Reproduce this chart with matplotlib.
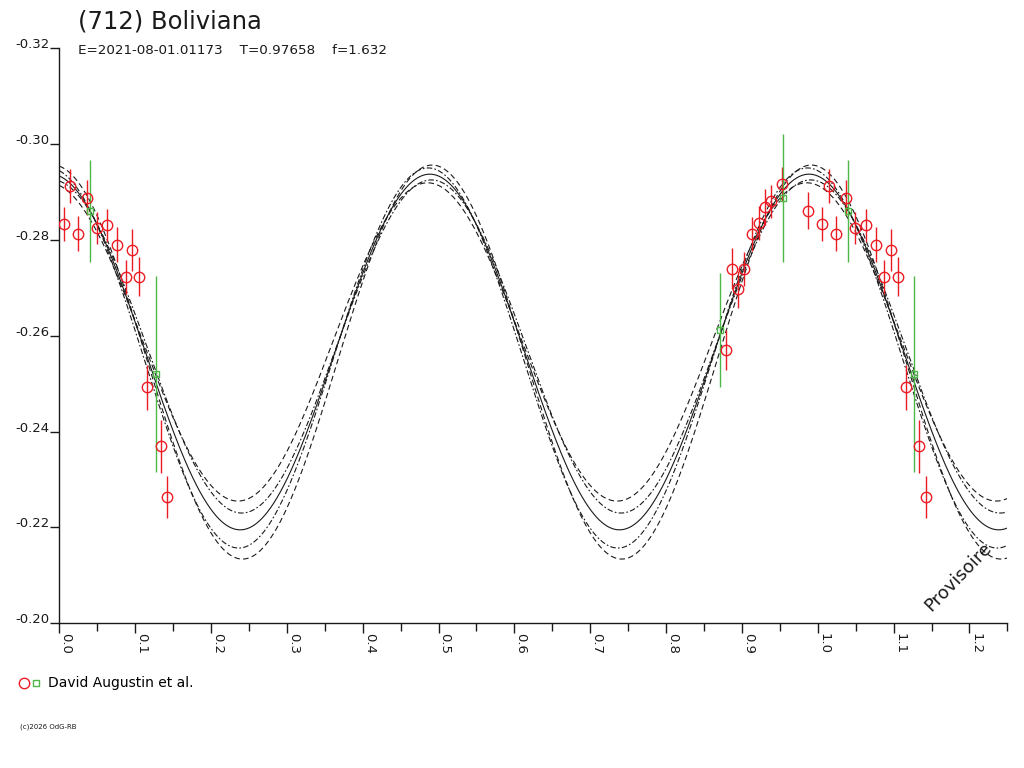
import numpy as np
import matplotlib
matplotlib.use('Agg')
import matplotlib.pyplot as plt
from matplotlib.lines import Line2D
from matplotlib.legend_handler import HandlerTuple
from matplotlib.ticker import FixedLocator, MultipleLocator

plt.rcParams['font.family'] = ['DejaVu Sans']

# ---------------- data ----------------
title = "(712) Boliviana"
subtitle = "E=2021-08-01.01173    T=0.97658    f=1.632"
observer = "David Augustin et al."
copyright_txt = "(c)2026 OdG-RB"
stamp = "Provisoire"

red_phase = [0.0062, 0.0145, 0.0243, 0.0369, 0.0497, 0.0633, 0.0765, 0.0875,
             0.0962, 0.1057, 0.1160, 0.1337, 0.1424, 0.8786, 0.8865, 0.8944,
             0.9031, 0.9128, 0.9225, 0.9304, 0.9383, 0.9528, 0.9875]
red_mag = [-0.2833, -0.2912, -0.2813, -0.2888, -0.2825, -0.2830, -0.2790, -0.2723,
           -0.2779, -0.2723, -0.2492, -0.2369, -0.2263, -0.2570, -0.2740, -0.2697,
           -0.2739, -0.2812, -0.2835, -0.2868, -0.2880, -0.2917, -0.2861]
red_err = [0.0036, 0.0035, 0.0036, 0.0036, 0.0034, 0.0035, 0.0037, 0.0035,
           0.0043, 0.0041, 0.0047, 0.0055, 0.0044, 0.0042, 0.0042, 0.0039,
           0.0036, 0.0036, 0.0035, 0.0038, 0.0035, 0.0035, 0.0039]

green_phase = [0.0401, 0.1275, 0.8715, 0.9537]
green_mag = [-0.2860, -0.2520, -0.2612, -0.2887]
green_err = [0.0107, 0.0205, 0.0119, 0.0133]

# Fourier fit (2nd harmonic) and its uncertainty envelope:
# mean, amplitude, phase offset, line style
fit_phase0 = 0.4885
curve_mean = [-0.2566, -0.25535, -0.25775, -0.2545, -0.2587]
curve_amp = [0.0371, 0.03965, 0.03475, 0.0411, 0.0332]
curve_shift = [0.0, -0.002, 0.002, 0.003, -0.003]
curve_style = ['solid', 'dashdot', 'dashdot', 'dashed', 'dashed']

yticks = [-0.32, -0.30, -0.28, -0.26, -0.24, -0.22, -0.20]
ytick_labels = ['-0.32', '-0.30', '-0.28', '-0.26', '-0.24', '-0.22', '-0.20']
xticks = [0.0, 0.1, 0.2, 0.3, 0.4, 0.5, 0.6, 0.7, 0.8, 0.9, 1.0, 1.1, 1.2]
xtick_labels = ['0.0', '0.1', '0.2', '0.3', '0.4', '0.5', '0.6', '0.7', '0.8',
                '0.9', '1.0', '1.1', '1.2']

RED = '#ec1c24'
GREEN = '#4db848'
INK = '#1a1a1a'

# ---------------- figure ----------------
W, H = 1024, 768
fig = plt.figure(figsize=(W / 100, H / 100), dpi=100)
ax = fig.add_axes([59.3 / W, 1 - 623.3 / H, 948.1 / W, 575.2 / H])

xmax = 1.25
grid = np.linspace(0, xmax, 1500)
styles = {'solid': '-', 'dashdot': (0, (5, 2, 1.5, 2)), 'dashed': (0, (5, 3))}
for m, a, d, st in zip(curve_mean, curve_amp, curve_shift, curve_style):
    ax.plot(grid, m - a * np.cos(4 * np.pi * (grid - fit_phase0 - d)),
            color=INK, lw=0.8, ls=styles[st], zorder=1)


def draw(ph, mag, err, color, marker, ms):
    ph = np.asarray(ph); mag = np.asarray(mag); err = np.asarray(err)
    for shift in (0.0, 1.0):
        x = ph + shift
        sel = (x >= 0) & (x <= xmax)
        ax.errorbar(x[sel], mag[sel], yerr=err[sel], fmt='none', ecolor=color,
                    elinewidth=1.0, capsize=0, zorder=2)
        ax.plot(x[sel], mag[sel], ls='none', marker=marker, mfc='none',
                mec=color, ms=ms, mew=1.0, zorder=3)


draw(red_phase, red_mag, red_err, RED, 'o', 7.5)
draw(green_phase, green_mag, green_err, GREEN, 's', 4.8)

ax.set_xlim(0, xmax)
ax.set_ylim(-0.20, -0.32)
for s in ('top', 'right'):
    ax.spines[s].set_visible(False)
for s in ('left', 'bottom'):
    ax.spines[s].set_linewidth(1.0)
    ax.spines[s].set_color(INK)

ax.yaxis.set_major_locator(FixedLocator(yticks))
ax.set_yticklabels(ytick_labels)
ax.xaxis.set_major_locator(FixedLocator(xticks))
ax.set_xticklabels(xtick_labels)
ax.xaxis.set_minor_locator(MultipleLocator(0.05))

ax.tick_params(axis='y', direction='out', length=6.5, width=1, pad=0.5,
               labelsize=9.5, colors=INK)
ax.tick_params(axis='x', which='major', direction='out', length=7.2, width=1,
               pad=0, labelsize=9.5, colors=INK)
ax.tick_params(axis='x', which='minor', direction='out', length=5.8, width=1,
               colors=INK)
for lab in ax.get_yticklabels():
    lab.set_va('baseline')
for lab in ax.get_xticklabels():
    lab.set_rotation(-90)
    lab.set_ha('left')
    lab.set_va('top')

# texts
fig.text(78 / W, 1 - 29 / H, title, fontsize=17.5, color=INK, va='baseline', ha='left')
fig.text(78 / W, 1 - 53.5 / H, subtitle, fontsize=9.7, color=INK, va='baseline', ha='left')
fig.text(958 / W, 1 - 577 / H, stamp, fontsize=13, rotation=46, color=INK,
         ha='center', va='center')
fig.text(20 / W, 1 - 729 / H, copyright_txt, fontsize=5, color=INK,
         ha='left', va='baseline')

# legend
h_r = Line2D([], [], ls='none', marker='o', mfc='none', mec=RED, ms=7.5, mew=1)
h_g = Line2D([], [], ls='none', marker='s', mfc='none', mec=GREEN, ms=4.8, mew=1)
fig.legend(handles=[(h_r, h_g)], labels=[observer],
           handler_map={tuple: HandlerTuple(ndivide=None, pad=0)},
           loc='center left', bbox_to_anchor=(18 / W, 1 - 683.5 / H),
           frameon=False, fontsize=10, handlelength=1.73, handletextpad=0.41,
           borderpad=0, borderaxespad=0)

fig.savefig('out.png', dpi=100)
